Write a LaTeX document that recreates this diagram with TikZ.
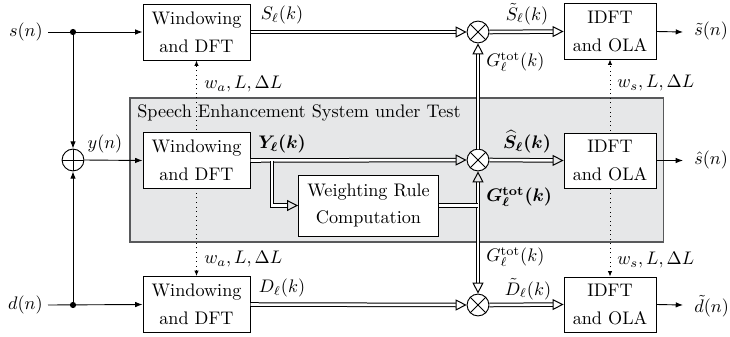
\documentclass[tikz,border=0pt]{standalone}
\usepackage{amsmath,bm}
\usetikzlibrary{arrows.meta,backgrounds,calc}
\definecolor{boxgray}{HTML}{E6E7E8}
\definecolor{boxedge}{HTML}{58595B}
\begin{document}
\begin{tikzpicture}[x=0.55pt,y=-0.55pt,
  blk/.style={draw, fill=white, align=center, inner sep=0pt, line width=0.5pt, font=\fontsize{10}{15.2}\selectfont},
  wbox/.style={blk, minimum width=58.9pt, minimum height=30.8pt},
  ibox/.style={blk, minimum width=50.6pt, minimum height=30.3pt},
  rbox/.style={blk, minimum width=77pt, minimum height=33.5pt},
  opnode/.style={circle, draw, fill=white, minimum size=12pt, inner sep=0pt, line width=0.5pt},
  sarr/.style={line width=0.5pt, -{Latex[length=4pt,width=3pt]}},
  sline/.style={line width=0.5pt},
  dline/.style={double, double distance=1.4pt, line width=0.55pt},
  darr/.style={dline, -{Triangle[open,length=6pt,width=6pt]}},
  dotarr/.style={dotted, line width=0.5pt, {Latex[length=3pt,width=2.5pt]}-{Latex[length=3pt,width=2.5pt]}},
  lbl/.style={inner sep=0pt}
]
\useasboundingbox (0,0) rectangle (730,336);

% blocks
\node[wbox] (wt) at (196.5,32) {Windowing\\and DFT};
\node[wbox] (wm) at (196.5,160.5) {Windowing\\and DFT};
\node[wbox] (wb) at (196.5,304.5) {Windowing\\and DFT};
\node[ibox] (it) at (610,31.5) {IDFT\\and OLA};
\node[ibox] (im) at (610,160.5) {IDFT\\and OLA};
\node[ibox] (ib) at (610,304.5) {IDFT\\and OLA};
\node[rbox] (wr) at (368.5,205.5) {Weighting Rule\\Computation};

% background: gray box and dotted parameter lines
\begin{pgfonlayer}{background}
\node[draw=boxedge, fill=boxgray, line width=0.6pt, minimum width=293.2pt, minimum height=79.2pt, inner sep=0pt] (sys) at (396.5,170) {};
\draw[dotarr] (wb.north) -- (wt.south);
\draw[dotarr] (ib.north) -- (it.south);
\end{pgfonlayer}
\node[lbl, anchor=west] (title) at (137,113) {Speech Enhancement System under Test};

% operators
\node[opnode] (sum) at (73,160) {};
\draw[sline] (sum.north) -- (sum.south) (sum.west) -- (sum.east);
\node[opnode] (mt) at (478,32) {};
\node[opnode] (mm) at (478,160) {};
\node[opnode] (mb) at (478,305) {};
\foreach \m in {mt,mm,mb}{
  \draw[sline] (\m.north west) -- (\m.south east) (\m.north east) -- (\m.south west);
}

% inputs
\coordinate (sin) at (48,32);
\coordinate (din) at (48,305);
\node[lbl, anchor=east] (ls) at (43,32) {$s(n)$};
\node[lbl, anchor=east] (ld) at (43,305) {$d(n)$};
\coordinate (dt) at (73,32);
\coordinate (db) at (73,305);
\fill (dt) circle (1.7pt);
\fill (db) circle (1.7pt);
\draw[sarr] (sin) -- (wt.west);
\draw[sarr] (din) -- (wb.west);
\draw[sarr] (dt) -- (sum.north);
\draw[sarr] (db) -- (sum.south);
\draw[sarr] (sum.east) -- (wm.west);
\node[lbl] (ly) at (105,144) {$y(n)$};

% spectra
\draw[darr] (wt.east) -- (mt.west);
\draw[darr] (wm.east) -- (mm.west);
\draw[darr] (wb.east) -- (mb.west);
\coordinate (br) at (272,160.5);
\draw[darr] (br) |- (wr.west);
\coordinate (jn) at (mm |- wr.east);
\draw[darr] (mm.north) -- (mt.south);
\draw[dline, {Triangle[open,length=6pt,width=6pt]}-{Triangle[open,length=6pt,width=6pt]}] (mm.south) -- (mb.north);
\draw[dline] (wr.east) -- (jn);

\draw[darr] (mt.east) -- (it.west);
\draw[darr] (mm.east) -- (im.west);
\draw[darr] (mb.east) -- (ib.west);

% outputs
\coordinate (ot) at (683,32);
\coordinate (om) at (683,160.5);
\coordinate (ob) at (683,305);
\draw[sarr] (it.east) -- (ot);
\draw[sarr] (im.east) -- (om);
\draw[sarr] (ib.east) -- (ob);
\node[lbl, anchor=west] (lst) at (694,31) {$\tilde{s}(n)$};
\node[lbl, anchor=west] (lsh) at (694,160) {$\hat{s}(n)$};
\node[lbl, anchor=west] (ldt) at (694,306) {$\tilde{d}(n)$};

% labels
\node[lbl] (lS) at (282,15) {$S_\ell(k)$};
\node[lbl] (lY) at (282,144) {$\bm{Y_\ell(k)}$};
\node[lbl] (lD) at (282,288) {$D_\ell(k)$};
\node[lbl] (lSt) at (527,14) {$\tilde{S}_\ell(k)$};
\node[lbl] (lSh) at (527,142) {$\bm{\widehat{S}_\ell(k)}$};
\node[lbl] (lDt) at (528,289) {$\tilde{D}_\ell(k)$};
\node[lbl, anchor=west] (lGt) at (486,62) {$G_\ell^{\mathrm{tot}}(k)$};
\node[lbl, anchor=west] (lGm) at (486,197) {$\bm{G_\ell^{\mathbf{tot}}(k)}$};
\node[lbl, anchor=west] (lGb) at (486,257) {$G_\ell^{\mathrm{tot}}(k)$};
\node[lbl, anchor=west] (lwat) at (204,84) {$w_a, L, \Delta L$};
\node[lbl, anchor=west] (lwab) at (204,259) {$w_a, L, \Delta L$};
\node[lbl, anchor=west] (lwst) at (617,83) {$w_s, L, \Delta L$};
\node[lbl, anchor=west] (lwsb) at (617,260) {$w_s, L, \Delta L$};
\end{tikzpicture}
\end{document}
